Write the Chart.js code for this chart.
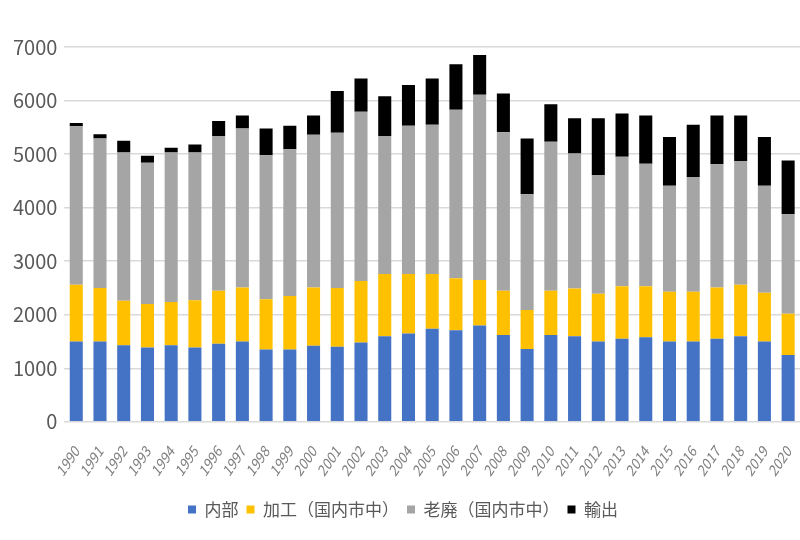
<!DOCTYPE html>
<html>
<head>
<meta charset="utf-8">
<script src="https://cdn.jsdelivr.net/npm/chart.js@4.4.1/dist/chart.umd.min.js"></script>
<style>
  html, body { margin: 0; padding: 0; background: #fff; }
  #wrap { width: 800px; height: 540px; }
</style>
</head>
<body>
<div id="wrap"><canvas id="chart" width="800" height="540"></canvas></div>
<script>
// years on the x axis
const years = ['1990','1991','1992','1993','1994','1995','1996','1997','1998','1999',
  '2000','2001','2002','2003','2004','2005','2006','2007','2008','2009',
  '2010','2011','2012','2013','2014','2015','2016','2017','2018','2019','2020'];

// stacked series
const naibu = [1500,1500,1430,1390,1430,1390,1460,1500,1350,1350,
  1420,1400,1480,1600,1650,1740,1710,1800,1620,1360,
  1620,1600,1500,1550,1580,1500,1500,1550,1600,1500,1250];
const kakou = [1060,1000,830,810,810,880,990,1010,940,1000,
  1090,1100,1150,1160,1110,1020,970,850,830,730,
  830,890,890,980,950,930,930,960,960,910,770];
const rouhai = [2960,2790,2770,2640,2790,2760,2890,2970,2690,2740,
  2850,2900,3160,2580,2770,2790,3150,3460,2960,2160,
  2780,2520,2220,2420,2290,1980,2140,2300,2310,2000,1860];
const yushutsu = [60,80,220,130,90,150,280,240,500,440,
  360,780,620,740,760,860,850,740,720,1040,
  700,660,1060,810,900,910,980,910,850,910,1000];

const seriesNames = ['内部', '加工（国内市中）', '老廃（国内市中）', '輸出'];
const seriesColors = ['#4472C4', '#FFC000', '#A5A5A5', '#000000'];

(function () {
  if (!window.Chart) {
    console.error('Chart.js not loaded');
    return;
  }
  Chart.defaults.font.family = '"Noto Sans CJK JP", "Noto Sans", sans-serif';

  const values = [naibu, kakou, rouhai, yushutsu];
  const datasets = values.map((v, i) => ({
    label: seriesNames[i],
    data: v,
    backgroundColor: seriesColors[i],
    borderWidth: 0,
    categoryPercentage: 1.0,
    barPercentage: 0.55
  }));

  new Chart(document.getElementById('chart'), {
    type: 'bar',
    data: { labels: years, datasets },
    options: {
      responsive: false,
      animation: false,
      devicePixelRatio: 1,
      layout: { padding: { top: 47, left: 6, right: 0, bottom: 12 } },
      plugins: {
        legend: {
          position: 'bottom',
          labels: {
            color: '#595959',
            font: { size: 17 },
            boxWidth: 8,
            boxHeight: 8,
            padding: 8
          }
        },
        title: { display: false },
        tooltip: { enabled: false }
      },
      scales: {
        x: {
          stacked: true,
          grid: { display: false },
          border: { display: false },
          // let the bars run to the right edge like the original
          afterFit(scale) { scale.paddingRight = 0; },
          ticks: {
            color: '#7F7F7F',
            font: { size: 14, style: 'italic' },
            minRotation: 56,
            maxRotation: 56,
            autoSkip: false,
            padding: 14
          }
        },
        y: {
          stacked: true,
          min: 0,
          max: 7000,
          border: { display: false },
          grid: { color: '#D9D9D9', lineWidth: 1.5, drawTicks: false },
          ticks: {
            stepSize: 1000,
            color: '#595959',
            font: { size: 20 },
            padding: 7,
            callback: (v) => String(v)
          }
        }
      }
    }
  });
})();
</script>
</body>
</html>
